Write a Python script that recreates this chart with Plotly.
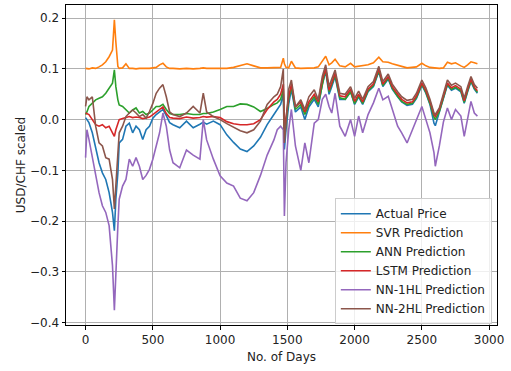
import plotly.graph_objects as go

DAYS = [0, 10, 25, 50, 75, 100, 125, 150, 175, 200, 214, 225, 240, 250, 275, 300, 325, 350, 375, 400,
        425, 450, 475, 500, 525, 550, 575, 600, 625, 650, 700, 750, 800, 850, 875, 900, 950, 1000, 1050, 1100,
        1150, 1200, 1250, 1300, 1350, 1400, 1425, 1450, 1470, 1478, 1490, 1510, 1530, 1560, 1600, 1630, 1660, 1700, 1730, 1760,
        1785, 1810, 1830, 1855, 1890, 1930, 1970, 2000, 2030, 2060, 2100, 2140, 2180, 2210, 2250, 2280, 2320, 2350, 2390, 2430,
        2460, 2500, 2530, 2560, 2590, 2600, 2630, 2660, 2690, 2720, 2750, 2790, 2815, 2840, 2865, 2890, 2913]

ACTUAL = [0.004, 0.0, -0.006, -0.026, -0.059, -0.085, -0.105, -0.118, -0.144, -0.183, -0.219, -0.157, -0.105, -0.046, -0.039, -0.013, -0.007, -0.026, -0.013, -0.02,
          -0.039, -0.02, -0.013, 0.003, 0.01, 0.016, 0.02, 0.008, -0.006, -0.01, -0.016, -0.003, -0.016, -0.009, -0.005, -0.009, -0.003, -0.01, -0.03, -0.045,
          -0.058, -0.063, -0.052, -0.035, -0.01, 0.01, 0.02, 0.03, 0.05, -0.059, -0.02, 0.03, 0.06, 0.015, 0.025, 0.0, 0.025, 0.04, 0.025, 0.07,
          0.095, 0.05, 0.065, 0.085, 0.04, 0.04, 0.055, 0.03, 0.045, 0.03, 0.055, 0.065, 0.095, 0.065, 0.08, 0.06, 0.045, 0.035, 0.028, 0.03,
          0.042, 0.068, 0.052, 0.03, -0.007, -0.012, 0.015, 0.04, 0.068, 0.058, 0.062, 0.055, 0.032, 0.055, 0.075, 0.06, 0.052]

SVR = [0.101, 0.101, 0.100, 0.102, 0.101, 0.104, 0.108, 0.114, 0.124, 0.137, 0.197, 0.153, 0.105, 0.101, 0.102, 0.110, 0.101, 0.101, 0.100, 0.101,
       0.101, 0.100, 0.101, 0.102, 0.103, 0.108, 0.111, 0.104, 0.101, 0.101, 0.100, 0.101, 0.100, 0.101, 0.102, 0.101, 0.101, 0.102, 0.101, 0.103,
       0.106, 0.110, 0.106, 0.102, 0.102, 0.103, 0.102, 0.103, 0.121, 0.110, 0.103, 0.102, 0.115, 0.102, 0.101, 0.101, 0.101, 0.102, 0.104, 0.115,
       0.125, 0.108, 0.112, 0.119, 0.106, 0.104, 0.111, 0.104, 0.105, 0.106, 0.108, 0.112, 0.123, 0.114, 0.113, 0.110, 0.108, 0.105, 0.102, 0.103,
       0.104, 0.111, 0.106, 0.103, 0.102, 0.101, 0.101, 0.102, 0.113, 0.110, 0.112, 0.106, 0.103, 0.108, 0.114, 0.112, 0.110]

ANN = [0.010, 0.015, 0.026, 0.032, 0.039, 0.042, 0.045, 0.052, 0.062, 0.072, 0.098, 0.065, 0.039, 0.029, 0.026, 0.019, 0.013, 0.019, 0.023, 0.013,
       0.016, 0.010, 0.013, 0.019, 0.026, 0.026, 0.030, 0.020, 0.012, 0.010, 0.010, 0.012, 0.010, 0.010, 0.012, 0.012, 0.015, 0.020, 0.026, 0.026,
       0.031, 0.030, 0.025, 0.016, 0.022, 0.030, 0.033, 0.040, 0.060, -0.030, 0.000, 0.040, 0.065, 0.020, 0.030, 0.010, 0.030, 0.045, 0.030, 0.072,
       0.100, 0.055, 0.068, 0.088, 0.043, 0.040, 0.055, 0.032, 0.047, 0.032, 0.057, 0.067, 0.097, 0.067, 0.082, 0.062, 0.046, 0.036, 0.030, 0.032,
       0.044, 0.070, 0.054, 0.032, 0.005, 0.000, 0.016, 0.042, 0.070, 0.060, 0.064, 0.057, 0.034, 0.057, 0.077, 0.062, 0.054]

LSTM = [0.013, 0.012, 0.010, 0.000, -0.010, -0.013, -0.010, -0.016, -0.013, -0.026, -0.033, -0.020, -0.008, 0.000, 0.002, 0.004, 0.006, 0.004, 0.005, 0.004,
        0.002, 0.003, 0.005, 0.010, 0.015, 0.020, 0.025, 0.012, 0.004, 0.003, 0.002, 0.005, 0.003, 0.004, 0.006, 0.005, 0.006, 0.004, -0.004, -0.008,
        -0.010, -0.010, -0.008, 0.000, 0.020, 0.035, 0.040, 0.050, 0.070, -0.020, 0.005, 0.045, 0.070, 0.025, 0.035, 0.015, 0.035, 0.050, 0.035, 0.078,
        0.100, 0.058, 0.072, 0.092, 0.047, 0.045, 0.060, 0.036, 0.050, 0.035, 0.060, 0.070, 0.100, 0.070, 0.085, 0.065, 0.050, 0.040, 0.033, 0.035,
        0.047, 0.072, 0.057, 0.036, 0.010, 0.006, 0.020, 0.046, 0.072, 0.063, 0.067, 0.060, 0.037, 0.060, 0.080, 0.064, 0.057]

NN1HL = [-0.075, -0.020, -0.039, -0.075, -0.105, -0.144, -0.170, -0.183, -0.209, -0.288, -0.376, -0.288, -0.209, -0.157, -0.131, -0.118, -0.078, -0.092, -0.075, -0.092,
         -0.118, -0.110, -0.098, -0.078, -0.050, -0.026, 0.013, -0.013, -0.060, -0.085, -0.095, -0.060, -0.070, -0.078, 0.000, -0.040, -0.078, -0.111, -0.125, -0.131,
         -0.155, -0.160, -0.144, -0.110, -0.070, -0.040, -0.020, -0.013, -0.020, -0.190, -0.085, -0.020, 0.020, -0.052, -0.100, -0.046, -0.085, -0.007, 0.000, 0.040,
         0.050, 0.026, 0.013, 0.052, -0.013, -0.033, 0.000, -0.033, 0.007, -0.026, 0.010, 0.033, 0.062, 0.039, 0.046, 0.020, -0.013, -0.026, -0.046, -0.020,
         0.000, 0.026, 0.000, -0.026, -0.065, -0.092, -0.052, -0.005, 0.023, 0.000, 0.020, 0.007, -0.033, 0.000, 0.036, 0.013, 0.007]

NN2HL = [0.026, 0.045, 0.039, 0.045, -0.013, -0.046, -0.052, -0.075, -0.078, -0.118, -0.176, -0.131, -0.052, -0.026, -0.013, 0.006, 0.013, 0.019, 0.013, 0.006,
         0.010, 0.003, 0.016, 0.032, 0.052, 0.062, 0.069, 0.045, 0.015, 0.010, 0.006, 0.013, 0.026, 0.013, 0.052, 0.015, 0.006, 0.000, -0.008, -0.015,
         -0.022, -0.026, -0.020, -0.003, 0.030, 0.045, 0.050, 0.065, 0.100, -0.046, 0.000, 0.060, 0.078, 0.025, 0.039, 0.020, 0.045, 0.059, 0.039, 0.085,
         0.108, 0.065, 0.080, 0.098, 0.052, 0.050, 0.065, 0.042, 0.056, 0.040, 0.065, 0.075, 0.105, 0.075, 0.090, 0.070, 0.055, 0.045, 0.038, 0.040,
         0.052, 0.078, 0.062, 0.040, 0.013, 0.010, 0.023, 0.050, 0.078, 0.068, 0.072, 0.065, 0.042, 0.065, 0.085, 0.069, 0.062]

SERIES = [
    ("Actual Price", ACTUAL, "#1f77b4"),
    ("SVR Prediction", SVR, "#ff7f0e"),
    ("ANN Prediction", ANN, "#2ca02c"),
    ("LSTM Prediction", LSTM, "#d62728"),
    ("NN-1HL Prediction", NN1HL, "#9467bd"),
    ("NN-2HL Prediction", NN2HL, "#8c564b"),
]

X_TICKS = [0, 500, 1000, 1500, 2000, 2500, 3000]
Y_TICKS = [-0.4, -0.3, -0.2, -0.1, 0.0, 0.1, 0.2]
Y_TICK_TEXT = ["\u22120.4", "\u22120.3", "\u22120.2", "\u22120.1", "0.0", "0.1", "0.2"]

fig = go.Figure()
for name, vals, color in SERIES:
    fig.add_trace(go.Scatter(x=DAYS, y=vals, mode="lines", name=name,
                             line=dict(color=color, width=1.6)))

FONT = "DejaVu Sans"
fig.update_layout(
    width=511, height=371,
    margin=dict(l=66, r=14, t=5, b=46),
    paper_bgcolor="white", plot_bgcolor="white",
    font=dict(family=FONT, size=12, color="#222222"),
    showlegend=True,
    legend=dict(x=0.988, y=0.0025, xanchor="right", yanchor="bottom",
                bgcolor="rgba(255,255,255,0.8)", bordercolor="#cccccc", borderwidth=1,
                itemwidth=30, tracegroupgap=0,
                font=dict(family=FONT, size=12, color="#222222")),
    xaxis=dict(range=[-145.6, 3058.6], tickvals=X_TICKS, ticks="outside", ticklen=3.5, tickwidth=0.8,
               tickcolor="black", showline=True, linecolor="black", linewidth=1, mirror=True,
               showgrid=True, gridcolor="#b0b0b0", gridwidth=0.8, zeroline=False,
               tickfont=dict(size=12),
               title=dict(text="No. of Days", standoff=6, font=dict(size=12))),
    yaxis=dict(range=[-0.405, 0.226], tickvals=Y_TICKS, ticktext=Y_TICK_TEXT, ticks="outside", ticklen=3.5,
               tickwidth=0.8, tickcolor="black", showline=True, linecolor="black", linewidth=1, mirror=True,
               showgrid=True, gridcolor="#b0b0b0", gridwidth=0.8, zeroline=False,
               tickfont=dict(size=12),
               title=dict(text="USD/CHF scaled", standoff=1, font=dict(size=12))),
)

fig.write_html("out.html")
